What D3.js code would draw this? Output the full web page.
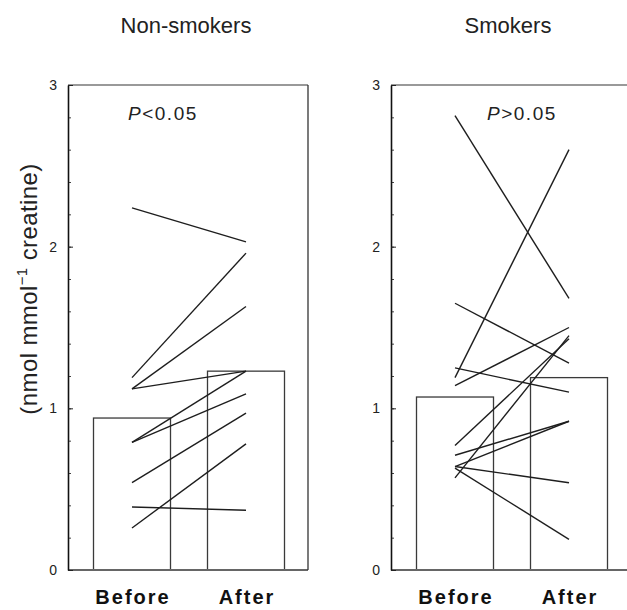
<!DOCTYPE html>
<html>
<head>
<meta charset="utf-8">
<script src="https://cdn.jsdelivr.net/npm/d3@7"></script>
<style>
  html, body { margin: 0; padding: 0; background: #fff; }
  svg { display: block; font-family: "Liberation Sans", Arial, Helvetica, sans-serif; }
</style>
</head>
<body>
<div id="chart"></div>
<script>
// ── Data ────────────────────────────────────────────────────────────────────
const groups = ['Before', 'After'];
const yTicks = [0, 1, 2, 3];

const nonSmokerBefore = [2.24, 1.19, 1.12, 1.12, 0.79, 0.79, 0.54, 0.26, 0.39];
const nonSmokerAfter  = [2.03, 1.96, 1.63, 1.23, 1.23, 1.09, 0.97, 0.78, 0.37];
const nonSmokerMeans  = [0.94, 1.23];

const smokerBefore = [2.81, 1.19, 1.65, 1.25, 1.14, 0.77, 0.57, 0.71, 0.64, 0.64, 0.63];
const smokerAfter  = [1.68, 2.60, 1.28, 1.10, 1.50, 1.43, 1.45, 0.92, 0.92, 0.54, 0.19];
const smokerMeans  = [1.07, 1.19];

// ── Layout ──────────────────────────────────────────────────────────────────
const W = 627, H = 610;
const plotTop = 85, plotBottom = 570, panelW = 240;

const panels = [
  { title: 'Non-smokers', x0: 68,  titleX: 186, pText: '<0.05', pX: 128,
    before: nonSmokerBefore, after: nonSmokerAfter, means: nonSmokerMeans },
  { title: 'Smokers',     x0: 391, titleX: 508, pText: '>0.05', pX: 487,
    before: smokerBefore, after: smokerAfter, means: smokerMeans },
];

const svg = d3.select('#chart').append('svg')
  .attr('width', W).attr('height', H);

const y = d3.scaleLinear().domain([0, 3]).range([plotBottom, plotTop]);
const minor = d3.range(0, 3.001, 0.2).map(v => +v.toFixed(1));

panels.forEach(p => {
  const g = svg.append('g').attr('transform', `translate(${p.x0},0)`);
  // centres of the Before / After columns
  const x = d3.scalePoint().domain(groups).range([64, 178]);
  const barW = 77;

  // bars (group means)
  g.selectAll('rect.bar')
    .data(groups.map((k, i) => ({ k, v: p.means[i] })))
    .join('rect')
    .attr('class', 'bar')
    .attr('x', d => x(d.k) - barW / 2)
    .attr('y', d => y(d.v))
    .attr('width', barW)
    .attr('height', d => y(0) - y(d.v))
    .attr('fill', 'none')
    .attr('stroke', '#3a3a3a').attr('stroke-width', 1.3);

  // paired lines
  g.selectAll('line.pair')
    .data(p.before.map((b, i) => [b, p.after[i]]))
    .join('line')
    .attr('class', 'pair')
    .attr('x1', x('Before')).attr('y1', d => y(d[0]))
    .attr('x2', x('After')).attr('y2', d => y(d[1]))
    .attr('stroke', '#1e1e1e').attr('stroke-width', 1.4);

  // frame: top, bottom, right (gray scanned look)
  g.append('line').attr('x1', 0).attr('x2', panelW).attr('y1', plotTop).attr('y2', plotTop)
    .attr('stroke', '#777').attr('stroke-width', 1.6);
  g.append('line').attr('x1', 0).attr('x2', panelW).attr('y1', plotBottom).attr('y2', plotBottom)
    .attr('stroke', '#666').attr('stroke-width', 1.8);
  g.append('line').attr('x1', panelW).attr('x2', panelW).attr('y1', plotTop).attr('y2', plotBottom)
    .attr('stroke', '#333').attr('stroke-width', 1.3);

  // y axis: minor ticks inward
  g.append('g')
    .call(d3.axisLeft(y).tickValues(minor).tickSize(-3).tickFormat(''))
    .call(ax => ax.select('.domain').remove())
    .call(ax => ax.selectAll('line').attr('stroke', '#444'));
  // major ticks + labels
  g.append('g')
    .call(d3.axisLeft(y).tickValues(yTicks).tickSizeInner(-5).tickSizeOuter(0).tickPadding(11)
      .tickFormat(d3.format('d')))
    .call(ax => ax.select('.domain').attr('stroke', '#111').attr('stroke-width', 1.6))
    .call(ax => ax.selectAll('line').attr('stroke', '#222'))
    .call(ax => ax.selectAll('text').attr('font-size', 14).attr('fill', '#222')
      .attr('font-family', '"Liberation Sans", Arial, sans-serif'));

  // group labels below
  g.selectAll('text.grp')
    .data(groups)
    .join('text')
    .attr('class', 'grp')
    .attr('x', d => x(d) + 1)
    .attr('y', 604)
    .attr('text-anchor', 'middle')
    .attr('font-size', 20).attr('font-weight', 'bold')
    .attr('letter-spacing', 2)
    .attr('fill', '#111')
    .text(d => d);

  // panel title
  svg.append('text')
    .attr('x', p.titleX).attr('y', 33)
    .attr('text-anchor', 'middle')
    .attr('font-size', 22).attr('fill', '#222')
    .text(p.title);

  // P value
  const pt = svg.append('text')
    .attr('x', p.pX).attr('y', 120)
    .attr('font-size', 19).attr('fill', '#222')
    .attr('letter-spacing', 1.5);
  pt.append('tspan').attr('font-style', 'italic').text('P');
  pt.append('tspan').text(p.pText);
});

// y-axis label
const yl = svg.append('text')
  .attr('transform', 'translate(37,289) rotate(-90)')
  .attr('text-anchor', 'middle')
  .attr('font-size', 24).attr('fill', '#222')
  .attr('letter-spacing', 0.4);
yl.append('tspan').text('(nmol mmol');
yl.append('tspan').attr('font-size', 15).attr('dy', -10).text('\u22121');
yl.append('tspan').attr('dy', 10).text(' creatine)');
</script>
</body>
</html>
